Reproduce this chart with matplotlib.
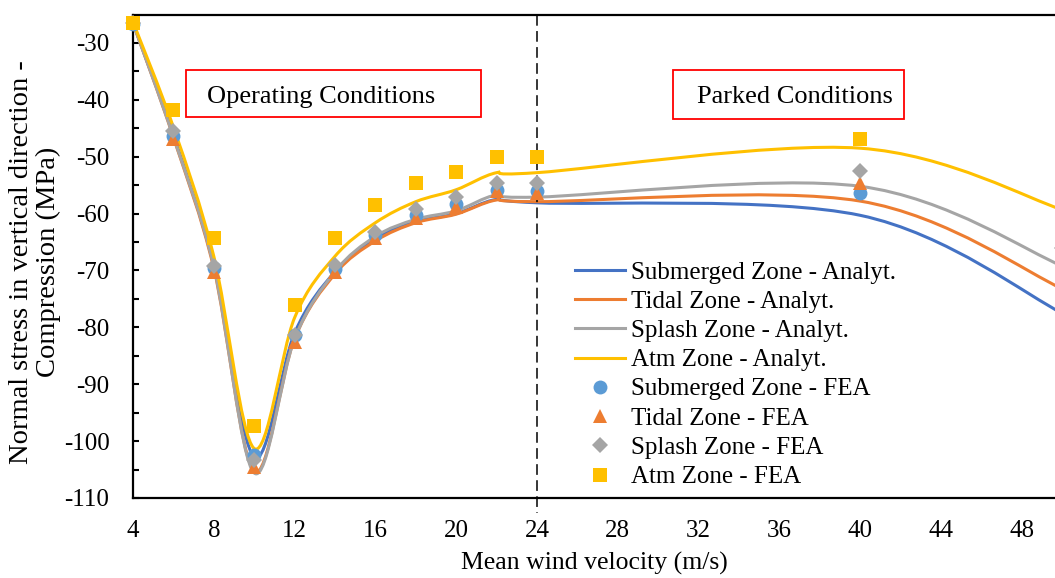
import matplotlib
matplotlib.use("Agg")
import matplotlib.pyplot as plt
from matplotlib.path import Path
from matplotlib.patches import PathPatch, Rectangle
from matplotlib.lines import Line2D
import numpy as np

# ---------------- data ----------------
wind = [4, 6, 8, 10, 12, 14, 16, 18, 20, 22, 24, 40, 50]

sub_analyt = [-26.5, -46.2, -69.0, -102.8, -81.0, -70.2, -64.4, -61.4, -60.0, -57.5, -58.1, -60.3, -77.5]
tid_analyt = [-26.5, -46.6, -69.6, -105.3, -82.0, -70.6, -64.8, -61.6, -60.1, -57.6, -57.9, -57.8, -73.2]
spl_analyt = [-26.5, -46.5, -69.3, -105.6, -82.0, -70.2, -64.0, -61.0, -59.5, -56.7, -57.1, -55.2, -69.2]
atm_analyt = [-26.3, -44.8, -67.5, -101.3, -78.3, -67.5, -61.6, -57.9, -55.8, -52.8, -52.8, -48.5, -59.3]

sub_fea = [-26.6, -46.3, -69.5, -102.5, -81.4, -69.8, -63.8, -60.2, -58.3, -55.8, -56.0, -56.3, -70.5]
tid_fea = [-26.3, -46.9, -70.3, -104.5, -82.5, -70.3, -64.3, -60.7, -58.8, -56.1, -56.3, -54.6, -70.0]
spl_fea = [-26.5, -45.5, -69.2, -103.3, -81.4, -69.1, -63.2, -59.2, -57.1, -54.6, -54.6, -52.5, -66.0]
atm_fea = [-26.5, -41.8, -64.3, -97.4, -76.1, -64.3, -58.5, -54.7, -52.6, -50.0, -50.0, -46.9, -58.8]

analyt_labels = ["Submerged Zone - Analyt.", "Tidal Zone - Analyt.",
                 "Splash Zone - Analyt.", "Atm Zone - Analyt."]
fea_labels = ["Submerged Zone - FEA", "Tidal Zone - FEA",
              "Splash Zone - FEA", "Atm Zone - FEA"]
x_ticks = [4, 8, 12, 16, 20, 24, 28, 32, 36, 40, 44, 48]
y_ticks = [-110, -100, -90, -80, -70, -60, -50, -40, -30]

line_colors = ["#4472C4", "#ED7D31", "#A5A5A5", "#FFC000"]
marker_colors = ["#5B9BD5", "#ED7D31", "#A5A5A5", "#FFC000"]
markers = ["o", "^", "D", "s"]
msizes = [10, 10.5, 8, 9.5]

plt.rcParams["font.family"] = ["Liberation Serif", "DejaVu Serif"]
plt.rcParams["axes.unicode_minus"] = False

W, H = 1055, 578
fig = plt.figure(figsize=(W / 100, H / 100), dpi=100)
ax = fig.add_axes([133 / W, 1 - 498 / H, (W - 133) / W, (498 - 15) / H])


def smooth_path(xs, ys):
    """Excel-like smoothed line: cubic Bezier segments through points."""
    P = np.column_stack([xs, ys]).astype(float)
    n = len(P)
    verts = [P[0]]
    codes = [Path.MOVETO]
    for i in range(n - 1):
        p0 = P[i - 1] if i > 0 else P[i]
        p1 = P[i]
        p2 = P[i + 1]
        p3 = P[i + 2] if i + 2 < n else P[i + 1]
        c1 = p1 + (p2 - p0) / 6.0
        c2 = p2 - (p3 - p1) / 6.0
        verts += [c1, c2, p2]
        codes += [Path.CURVE4] * 3
    return Path(verts, codes)


analyt = [sub_analyt, tid_analyt, spl_analyt, atm_analyt]
fea = [sub_fea, tid_fea, spl_fea, atm_fea]

handles = []
for ys, c, lab in zip(analyt, line_colors, analyt_labels):
    patch = PathPatch(smooth_path(wind, ys), facecolor="none", edgecolor=c,
                      lw=2.2, transform=ax.transData, zorder=3)
    ax.add_patch(patch)
    handles.append(Line2D([], [], color=c, lw=2.2, label=lab))

for ys, c, m, ms, lab in zip(fea, marker_colors, markers, msizes, fea_labels):
    h, = ax.plot(wind, ys, linestyle="none", marker=m, ms=ms, color=c,
                 markeredgewidth=0, zorder=5, label=lab, clip_on=False)
    handles.append(h)

ax.set_xlim(4, 4 + (W - 133) / 20.2)
ax.set_ylim(-110, -25.08)

# dashed separator at 24 m/s
ax.plot([24, 24], [1.0, -0.032], transform=ax.get_xaxis_transform(),
        color="black", lw=1.1, linestyle=(0, (7, 3.5)), clip_on=False, zorder=4)

ax.set_xticks(x_ticks)
ax.set_yticks(y_ticks)
ax.set_yticks(np.arange(-105, -25, 10), minor=True)
ax.tick_params(axis="x", length=0, pad=16, labelsize=18)
ax.tick_params(axis="y", which="both", direction="in", length=4, width=1.5,
               pad=17, labelsize=18)

for s in ["left", "bottom", "top"]:
    ax.spines[s].set_linewidth(1.6)
    ax.spines[s].set_color("black")
ax.spines["right"].set_visible(False)

ax.set_xlabel("Mean wind velocity (m/s)", fontsize=18.5, labelpad=7)
fig.text(35 / W, 1 - 262 / H,
         "Normal stress in vertical direction -\nCompression (MPa)",
         rotation=90, ha="center", va="center", fontsize=20.5,
         multialignment="center", linespacing=1.1)

# condition boxes
for (x0, x1, y0, y1) in [(186, 481, 70, 117), (673, 904, 70, 119)]:
    ax.add_patch(Rectangle(((x0 - 133) / 922, (498 - y1) / 483),
                           (x1 - x0) / 922, (y1 - y0) / 483,
                           transform=ax.transAxes, facecolor="white",
                           edgecolor="red", lw=1.3, zorder=6))
ax.text((321 - 133) / 922, (498 - 97) / 483, "Operating Conditions",
        transform=ax.transAxes, ha="center", va="center", fontsize=19, zorder=7)
ax.text((795 - 133) / 922, (498 - 97) / 483, "Parked Conditions",
        transform=ax.transAxes, ha="center", va="center", fontsize=19, zorder=7)

leg = ax.legend(handles=handles, loc="upper left",
                bbox_to_anchor=((575 - 133) / 922, (498 - 261) / 483),
                frameon=False, fontsize=18, borderpad=0, borderaxespad=0,
                handlelength=2.0, handletextpad=0.25, labelspacing=0.27,
                markerscale=1.0)
leg.set_zorder(8)

fig.savefig("out.png", dpi=100)
